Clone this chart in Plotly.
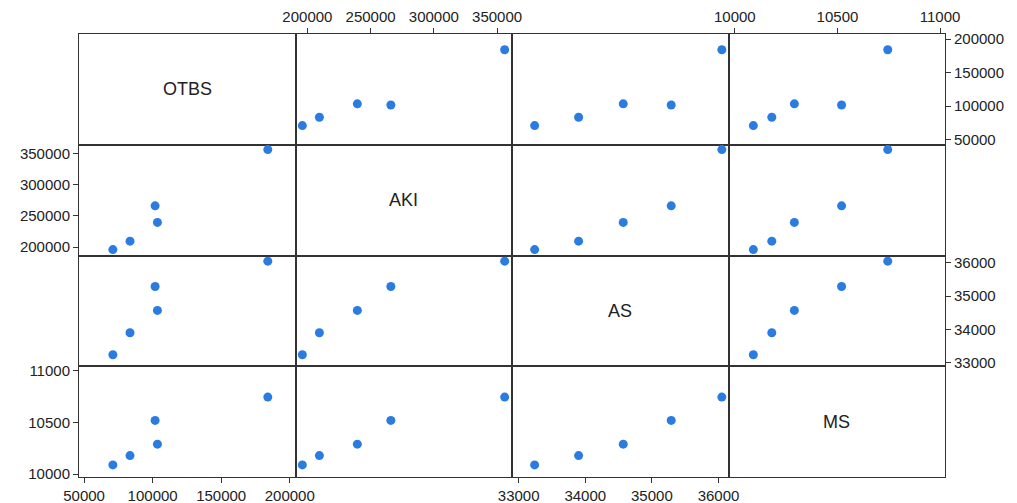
import plotly.graph_objects as go
from plotly.subplots import make_subplots

# ---- data ----
variables = ["OTBS", "AKI", "AS", "MS"]
OTBS = [71000, 83500, 103500, 101800, 184000]
AKI = [196000, 209500, 239500, 266000, 356000]
AS = [33240, 33900, 34570, 35290, 36050]
MS = [10090, 10180, 10290, 10520, 10745]
data = {"OTBS": OTBS, "AKI": AKI, "AS": AS, "MS": MS}

# axis ranges
x_ranges = {"OTBS": [46300, 204200], "AKI": [190600, 361800],
            "AS": [32900, 36150], "MS": [9969, 11024]}
y_ranges = {"OTBS": [42500, 207500], "AKI": [186600, 363700],
            "AS": [32894, 36220], "MS": [9973, 11043]}
tick_vals = {"OTBS": [50000, 100000, 150000, 200000],
             "AKI": [200000, 250000, 300000, 350000],
             "AS": [33000, 34000, 35000, 36000],
             "MS": [10000, 10500, 11000]}

n = len(variables)
fig = make_subplots(rows=n, cols=n, horizontal_spacing=0, vertical_spacing=0)

point_color = "#2B7CE0"
text_color = "#222222"
line_color = "#333333"
font_family = "Liberation Sans, Arial, sans-serif"

for r in range(n):
    for c in range(n):
        vy = variables[r]
        vx = variables[c]
        idx = r * n + c + 1
        if r != c:
            fig.add_trace(go.Scatter(
                x=data[vx], y=data[vy], mode="markers",
                marker=dict(color=point_color, size=9, line=dict(width=0)),
                showlegend=False, hoverinfo="x+y"), row=r + 1, col=c + 1)
        else:
            sfx = "" if idx == 1 else str(idx)
            fig.add_annotation(text=vx, x=0.5, y=0.5,
                               xref=f"x{sfx} domain", yref=f"y{sfx} domain",
                               showarrow=False,
                               font=dict(size=18, color=text_color, family=font_family))
            fig.add_trace(go.Scatter(x=[], y=[], showlegend=False), row=r + 1, col=c + 1)

        # x axis
        show_x = (c % 2 == 0 and r == n - 1) or (c % 2 == 1 and r == 0)
        xa = dict(range=x_ranges[vx], showgrid=False, zeroline=False,
                  showline=True, mirror=True, linecolor=line_color, linewidth=1,
                  showticklabels=show_x, ticks="outside" if show_x else "",
                  ticklen=5, tickcolor=line_color, automargin=False,
                  tickvals=tick_vals[vx], ticktext=[str(v) for v in tick_vals[vx]],
                  tickfont=dict(size=15, color=text_color, family=font_family))
        if c % 2 == 1 and r == 0:
            xa["side"] = "top"
        fig.update_xaxes(**xa, row=r + 1, col=c + 1)

        # y axis
        show_y = (r % 2 == 0 and c == n - 1) or (r % 2 == 1 and c == 0)
        ya = dict(range=y_ranges[vy], showgrid=False, zeroline=False,
                  showline=True, mirror=True, linecolor=line_color, linewidth=1,
                  showticklabels=show_y, ticks="outside" if show_y else "",
                  ticklen=5, tickcolor=line_color, automargin=False,
                  tickvals=tick_vals[vy], ticktext=[str(v) for v in tick_vals[vy]],
                  tickfont=dict(size=15, color=text_color, family=font_family))
        if r % 2 == 0 and c == n - 1:
            ya["side"] = "right"
        fig.update_yaxes(**ya, row=r + 1, col=c + 1)

# page body has an 8px margin, so the figure is sized/offset to compensate
fig.update_layout(width=1009, height=495,
                  margin=dict(l=71, r=72, t=26, b=26),
                  paper_bgcolor="white", plot_bgcolor="white",
                  font=dict(family=font_family, color=text_color))

fig.write_html("out.html")
